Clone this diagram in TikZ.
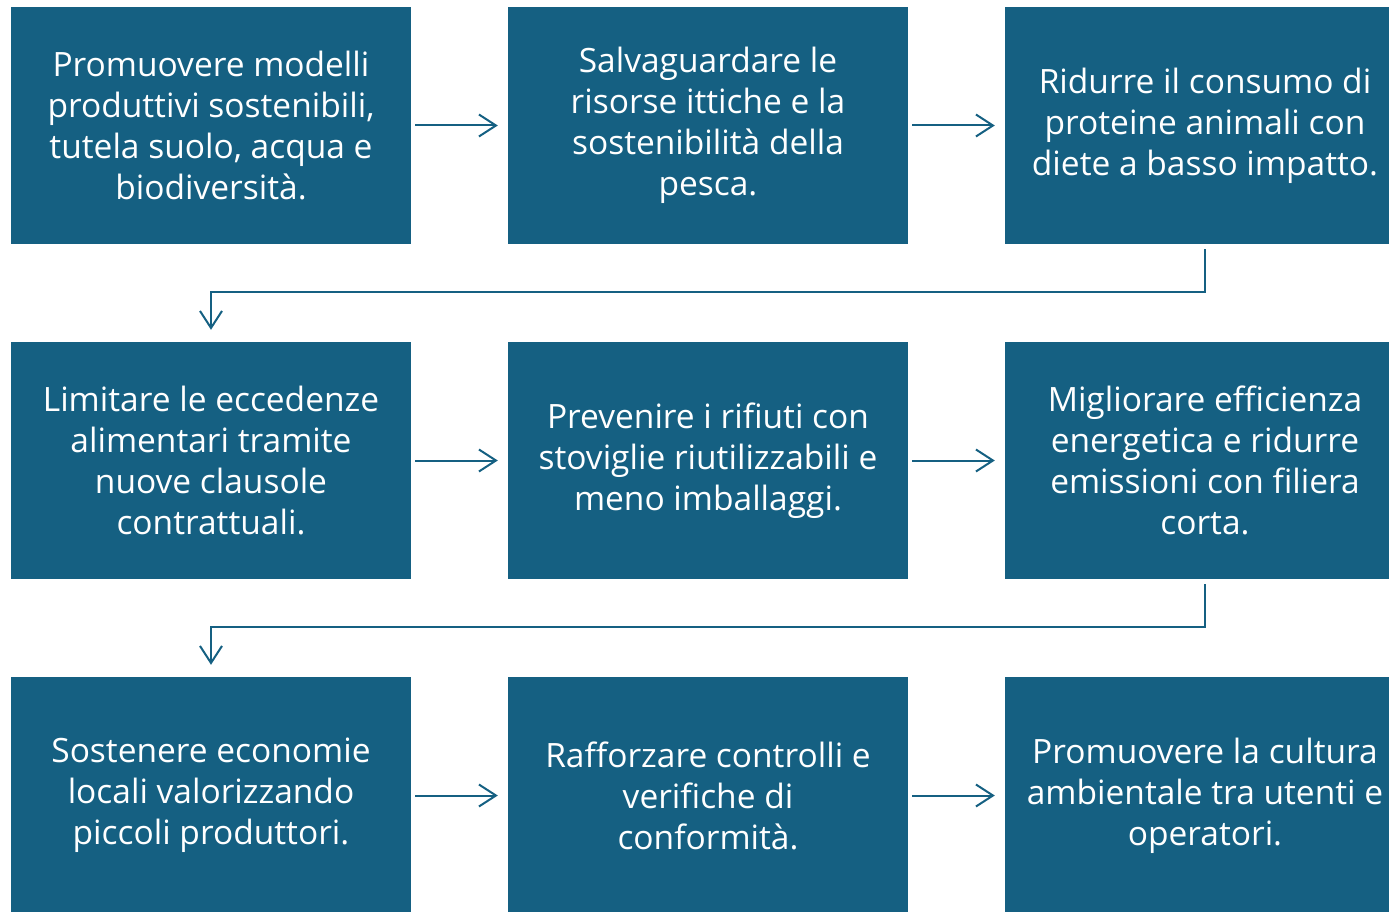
\documentclass[tikz,border=0pt]{standalone}
\usepackage{fontspec}
\setmainfont{Open Sans}
\usetikzlibrary{arrows.meta}
\definecolor{boxBlue}{HTML}{156082}
\newcommand\boxW{400pt}
\newcommand\boxH{237pt}
\tikzset{
	stepbox/.style={fill=boxBlue, text=white, minimum width=\boxW, minimum height=\boxH,
		inner sep=0pt, align=center, font=\fontsize{33.5}{41}\selectfont},
	flow/.style={draw=boxBlue, line width=2pt, -{Straight Barb[length=17pt,width=22pt]}}
}

\begin{document}
\begin{tikzpicture}[x=1pt,y=-1pt]
		\useasboundingbox (0,0) rectangle (1389,912);
		
		% first row
		\node[stepbox] (b1) at (211,125.5) {Promuovere modelli\\produttivi sostenibili,\\tutela suolo, acqua e\\biodiversità.};
		\node[stepbox] (b2) at (708,125.5) {Salvaguardare le\\risorse ittiche e la\\sostenibilità della\\pesca.};
		\node[stepbox] (b3) at (1205,125.5) {Ridurre il consumo di\\proteine animali con\\diete a basso impatto.};
		% second row
		\node[stepbox] (b4) at (211,460.5) {Limitare le eccedenze\\alimentari tramite\\nuove clausole\\contrattuali.};
		\node[stepbox] (b5) at (708,460.5) {Prevenire i rifiuti con\\stoviglie riutilizzabili e\\meno imballaggi.};
		\node[stepbox] (b6) at (1205,460.5) {Migliorare efficienza\\energetica e ridurre\\emissioni con filiera\\corta.};
		% third row
		\node[stepbox] (b7) at (211,795.5) {Sostenere economie\\locali valorizzando\\piccoli produttori.};
		\node[stepbox] (b8) at (708,795.5) {Rafforzare controlli e\\verifiche di\\conformità.};
		\node[stepbox] (b9) at (1205,795.5) {Promuovere la cultura\\ambientale tra utenti e\\operatori.};
		
		\foreach \a/\b in {b1/b2,b2/b3,b4/b5,b5/b6,b7/b8,b8/b9}{
			\draw[flow] ([xshift=4pt]\a.east) -- ([xshift=-10pt]\b.west);
		}
		
		\foreach \a/\b in {b3/b4,b6/b7}{
			\draw[flow] ([yshift=-5pt]\a.south) -- ++(0,43) -| ([yshift=12pt]\b.north);
		}
	\end{tikzpicture}
\end{document}
